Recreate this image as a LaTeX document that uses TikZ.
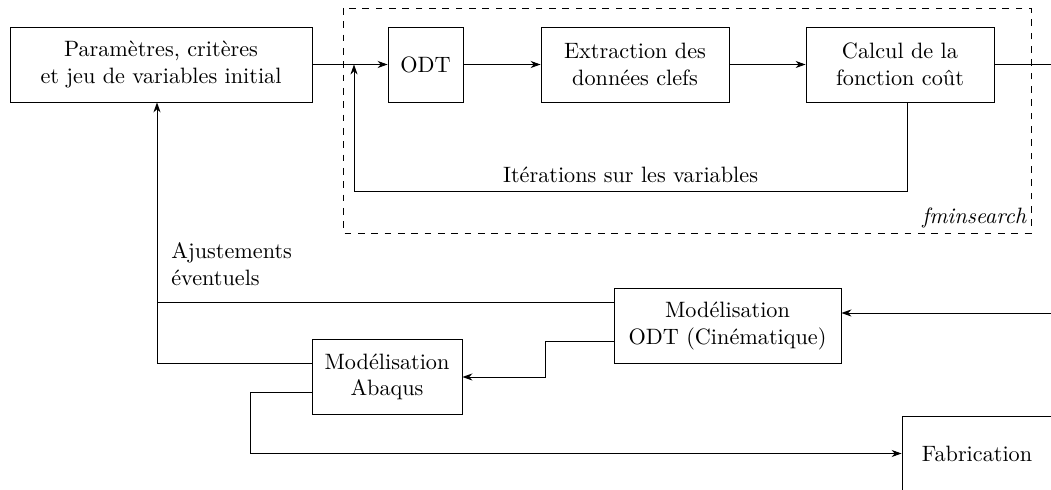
\documentclass[tikz,border=0pt]{standalone}
\usetikzlibrary{arrows.meta,positioning,calc}
\tikzset{
  boite/.style={draw,thin,inner sep=0pt,minimum height=33.75pt,align=center},
  fleche/.style={-{Stealth[length=4.5pt,width=3.2pt]},thin}
}

\begin{document}
\begin{tikzpicture}[x=0.45pt,y=-0.45pt]
\useasboundingbox (0,0) rectangle (1051,490);
% boites du haut
\node[boite,minimum width=135.9pt] (param) at (161,64.5)
  {Paramètres, critères\\et jeu de variables initial};
\node[boite,minimum width=33.75pt] (odt) at (425.5,64.5) {ODT};
\node[boite,minimum width=84.6pt] (extract) at (635,64.5)
  {Extraction des\\données clefs};
\node[boite,minimum width=84.6pt] (calcul) at (900,64.5)
  {Calcul de la\\fonction coût};
% boites du bas
\node[boite,minimum width=102.15pt] (mododt) at (727.5,326)
  {Modélisation\\ODT (Cinématique)};
\node[boite,minimum width=67.5pt] (abaqus) at (387,377)
  {Modélisation\\Abaqus};
\node[boite,minimum width=67.5pt] (fabrication) at (977,453.5) {Fabrication};
% cadre fminsearch
\coordinate (cadreA) at (343,8);
\coordinate (cadreB) at (1031,233);
\draw[dashed,thin] (cadreA) rectangle (cadreB);
\node[anchor=south east,font=\itshape,inner sep=2pt] (fmin) at (cadreB) {fminsearch};
% points de passage
\coordinate (jonction) at (354,64.5);
\coordinate (iterbas) at (907,191);
\coordinate (sortie) at (1060,64.5);
\coordinate (entree) at (1060,313);
\coordinate (ajust) at (157,302);
\coordinate (retour) at (157,363);
\coordinate (coude) at (545,341);
\coordinate (fab) at (250,392);
% liaisons du haut
\draw[fleche] (param) -- (odt);
\draw[fleche] (odt) -- (extract);
\draw[fleche] (extract) -- (calcul);
\draw[thin] (calcul) -- (sortie);
\draw[fleche] (calcul.south -| iterbas) -- (iterbas)
  -- node[above] (iter) {Itérations sur les variables} (iterbas -| jonction)
  -- (jonction);
% liaisons du bas
\draw[fleche] (entree) -- (entree -| mododt.east);
\draw[thin] (ajust -| mododt.west) -- (ajust);
\draw[fleche] (retour -| abaqus.west) -- (retour) -- (param.south -| retour);
\node[anchor=north west,align=left] (ajustlabel) at (163.5,235)
  {Ajustements\\éventuels};
\draw[fleche] (coude -| mododt.west) -- (coude) |- (abaqus.east);
\draw[fleche] (fab -| abaqus.west) -- (fab) |- (fabrication.west);
\end{tikzpicture}
\end{document}
